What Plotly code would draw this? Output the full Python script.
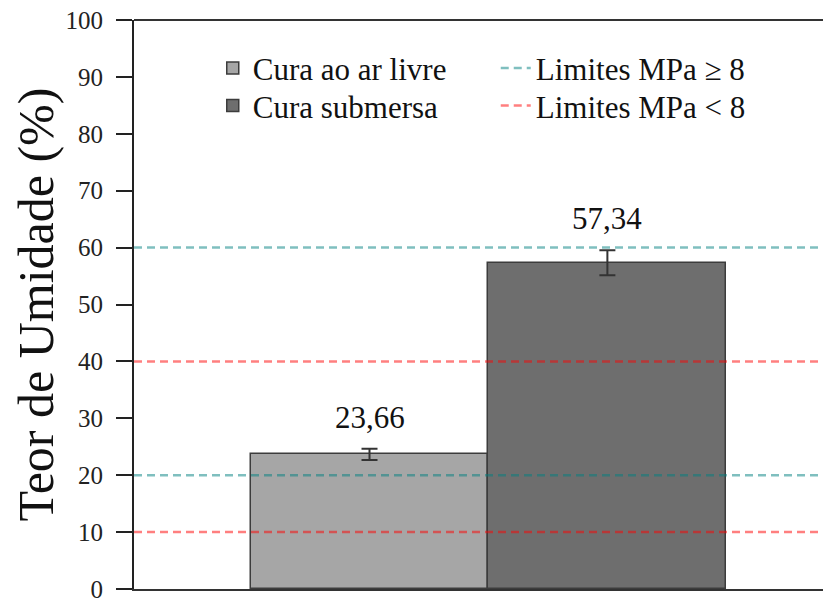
import plotly.graph_objects as go

categories = ["Cura ao ar livre", "Cura submersa"]
values = [23.66, 57.34]
errors = [1.0, 2.2]
value_labels = ["23,66", "57,34"]
bar_colors = ["#a6a6a6", "#6e6e6e"]

limit_hi_name = "Limites MPa ≥ 8"
limit_hi_values = [20, 60]
limit_lo_name = "Limites MPa < 8"
limit_lo_values = [10, 40]

y_ticks = [0, 10, 20, 30, 40, 50, 60, 70, 80, 90, 100]

x_lo, x_hi = -0.99, 1.94
SERIF = "Liberation Serif"

fig = go.Figure()

bar_legends = ["legend", "legend2"]
for i, (cat, v, e, c) in enumerate(zip(categories, values, errors, bar_colors)):
    fig.add_trace(go.Bar(
        x=[i], y=[v], name=cat, width=1.0,
        marker=dict(color=c, line=dict(color="#3c3c3c", width=1.5)),
        error_y=dict(type="data", array=[e], color="#333333", thickness=2, width=8),
        legend=bar_legends[i],
    ))

def hline_xy(levels):
    xs, ys = [], []
    for lv in levels:
        xs += [x_lo, x_hi, None]
        ys += [lv, lv, None]
    return xs, ys

xs, ys = hline_xy(limit_hi_values)
fig.add_trace(go.Scatter(x=xs, y=ys, mode="lines", name=limit_hi_name,
                         line=dict(color="rgba(0,128,128,0.5)", width=2.5, dash="8px,5px"),
                         legend="legend3"))
xs, ys = hline_xy(limit_lo_values)
fig.add_trace(go.Scatter(x=xs, y=ys, mode="lines", name=limit_lo_name,
                         line=dict(color="rgba(255,0,0,0.5)", width=2.5, dash="8px,5px"),
                         legend="legend4"))

for i, (v, e, lab) in enumerate(zip(values, errors, value_labels)):
    fig.add_annotation(x=i, y=v + e, text=lab, showarrow=False, yanchor="bottom",
                       yshift=12, font=dict(family=SERIF, size=31, color="#111"))

def leg(x, y):
    return dict(x=x, y=y, xanchor="left", yanchor="middle",
                font=dict(family=SERIF, size=31, color="#111"),
                bgcolor="rgba(0,0,0,0)")

fig.update_layout(
    width=831, height=598,
    margin=dict(l=126, r=8, t=12, b=17, autoexpand=False),
    plot_bgcolor="white", paper_bgcolor="white",
    barmode="group", bargap=0,
    showlegend=True,
    legend=leg(0.113, 0.915),
    legend2=leg(0.113, 0.849),
    legend3=leg(0.519, 0.915),
    legend4=leg(0.519, 0.849),
    xaxis=dict(range=[x_lo, x_hi], showticklabels=False, ticks="",
               showgrid=False, zeroline=False, showline=True, linecolor="#333",
               linewidth=2, mirror=False, automargin=False),
    yaxis=dict(range=[0, 100], tickvals=y_ticks, ticks="outside", ticklen=16,
               tickwidth=2, tickcolor="#222", showgrid=False, zeroline=False,
               showline=True, linecolor="#222", linewidth=2, automargin=False,
               ticklabelstandoff=8, ticklabeloverflow="allow",
               tickfont=dict(family=SERIF, size=25, color="#222"),
               title=dict(text="Teor de Umidade (%)", standoff=10,
                          font=dict(family=SERIF, size=50, color="#111"))),
)
fig.add_shape(type="line", xref="paper", yref="paper", x0=0, x1=1, y0=1, y1=1,
              line=dict(color="#333", width=2))

fig.write_html("out.html")
